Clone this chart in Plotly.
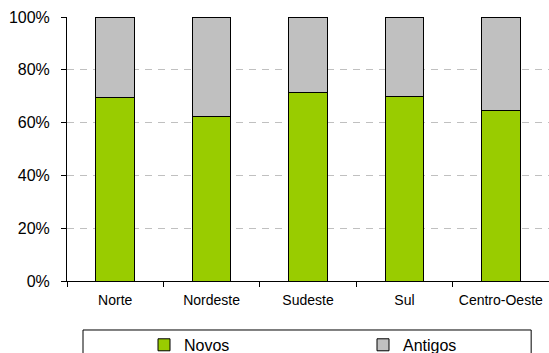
import plotly.graph_objects as go

# Share of vehicles by region (fraction of total)
regioes = ["Norte", "Nordeste", "Sudeste", "Sul", "Centro-Oeste"]
novos = [0.694, 0.625, 0.713, 0.700, 0.647]
antigos = [round(1 - v, 3) for v in novos]

FONT = "Liberation Sans, Arial, sans-serif"
bar_line = dict(color="black", width=1)

fig = go.Figure()
fig.add_trace(go.Bar(
    x=regioes, y=novos, name="Novos", legend="legend",
    marker=dict(color="#99CC00", line=bar_line),
))
fig.add_trace(go.Bar(
    x=regioes, y=antigos, name="Antigos", legend="legend2",
    marker=dict(color="#C0C0C0", line=bar_line),
))

# frame around the legend entries
fig.add_shape(
    type="rect", xref="paper", yref="paper",
    x0=0.0332, x1=0.963, y0=-0.45, y1=-0.1856,
    line=dict(color="black", width=1), fillcolor="rgba(0,0,0,0)",
    layer="above",
)

legend_common = dict(
    orientation="h", xanchor="left", yanchor="middle", y=-0.242,
    font=dict(size=16, family=FONT),
    bgcolor="rgba(0,0,0,0)", borderwidth=0, itemwidth=30,
)

fig.update_layout(
    width=549, height=353,
    margin=dict(l=67, r=0, t=17, b=72, autoexpand=False),
    barmode="stack", bargap=0.6,
    plot_bgcolor="white", paper_bgcolor="white",
    font=dict(family=FONT, color="black", size=14),
    showlegend=True,
    legend=dict(legend_common, x=(144 - 67) / 482),
    legend2=dict(legend_common, x=(363 - 67) / 482),
)

fig.update_xaxes(
    range=[-0.5, 4.5],
    showline=True, linecolor="black", linewidth=1,
    ticks="outside", ticklen=5, tickcolor="black",
    tickson="boundaries", showgrid=False,
    tickfont=dict(size=14, family=FONT),
    ticklabelstandoff=6,
)
fig.update_yaxes(
    range=[0, 1], tickvals=[0, 0.2, 0.4, 0.6, 0.8, 1.0],
    tickformat=".0%",
    showline=True, linecolor="black", linewidth=1,
    ticks="outside", ticklen=5, tickcolor="black",
    showgrid=True, gridcolor="#C0C0C0", gridwidth=1, griddash="7px,6px",
    zeroline=False,
    tickfont=dict(size=16, family=FONT),
    ticklabelstandoff=8,
)

fig.write_html("out.html")
